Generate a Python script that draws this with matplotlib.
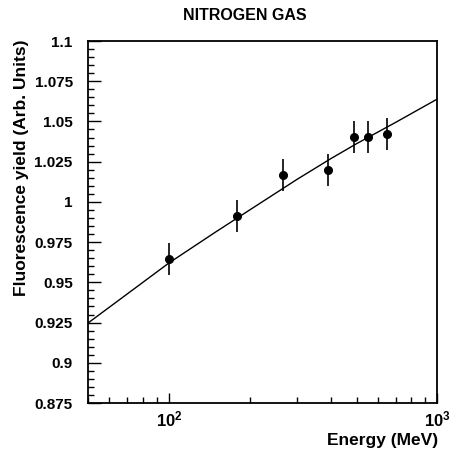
import matplotlib
matplotlib.use("Agg")
import matplotlib.pyplot as plt
import numpy as np
from matplotlib.ticker import MultipleLocator, LogLocator, NullFormatter

plt.rcParams['font.family'] = ['Liberation Sans', 'DejaVu Sans']
plt.rcParams['font.weight'] = 'bold'
plt.rcParams['mathtext.fontset'] = 'custom'
plt.rcParams['mathtext.rm'] = 'Liberation Sans:bold'
plt.rcParams['mathtext.it'] = 'Liberation Sans:bold'
plt.rcParams['mathtext.default'] = 'regular'

# measured points
energy = [100, 180, 267, 390, 490, 550, 650]
yield_n2 = [0.9645, 0.9912, 1.0167, 1.0198, 1.0403, 1.0403, 1.0424]
yield_err = [0.01, 0.01, 0.01, 0.01, 0.01, 0.01, 0.01]

# fitted curve
curve_e = [50, 75, 100, 150, 200, 300, 400, 500, 700, 1000]
curve_y = [0.9247, 0.9465, 0.9620, 0.9815, 0.9950, 1.0140, 1.0268, 1.0362, 1.0495, 1.0640]

fig = plt.figure(figsize=(4.52, 4.55), dpi=100)
ax = fig.add_axes([88/452, 1-403/455, (437.5-88)/452, (403-41)/455])

ax.plot(curve_e, curve_y, color='black', lw=1.0)
ax.errorbar(energy, yield_n2, yerr=yield_err, fmt='o', color='black',
            ms=5.5, elinewidth=1.2, capsize=0)

ax.set_xscale('log')
ax.set_xlim(50, 1000)
ax.set_ylim(0.875, 1.1)

ax.yaxis.set_minor_locator(MultipleLocator(0.005))
ax.set_yticks([0.875, 0.9, 0.925, 0.95, 0.975, 1.0, 1.025, 1.05, 1.075, 1.1])
ax.set_yticklabels(['0.875', '0.9', '0.925', '0.95', '0.975', '1',
                    '1.025', '1.05', '1.075', '1.1'])
ax.xaxis.set_minor_locator(LogLocator(base=10, subs=np.arange(2, 10)))
ax.xaxis.set_minor_formatter(NullFormatter())

ax.tick_params(which='both', direction='in', top=False, right=False, width=1.0)
ax.tick_params(axis='y', which='major', length=9, pad=11, labelsize=11)
ax.tick_params(axis='y', which='minor', length=4.5)
ax.tick_params(axis='x', which='major', length=7.5, pad=5, labelsize=12)
ax.tick_params(axis='x', which='minor', length=4)
for s in ax.spines.values():
    s.set_linewidth(1.3)

fig.text(245/452, 1-15/455, 'NITROGEN GAS', ha='center', va='center',
         fontsize=11.5, fontweight='bold')
fig.text(22/452, 1-40/455, 'Fluorescence yield (Arb. Units)', rotation=90,
         ha='center', va='top', fontsize=12.5, fontweight='bold')
fig.text(438/452, 1-440/455, 'Energy (MeV)', ha='right', va='center',
         fontsize=12.5, fontweight='bold')

fig.savefig('out.png', dpi=100)
